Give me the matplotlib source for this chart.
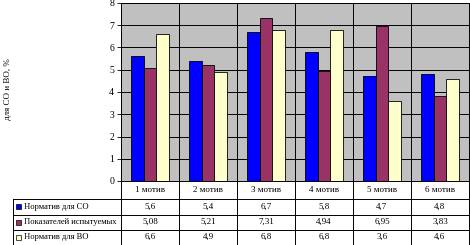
import matplotlib.pyplot as plt
import numpy as np

# chart data
categories = ['1 мотив', '2 мотив', '3 мотив', '4 мотив', '5 мотив', '6 мотив']
series_names = ['Норматив для СО', 'Показателей испытуемых', 'Норматив для ВО']
norm_co = [5.6, 5.4, 6.7, 5.8, 4.7, 4.8]
tested = [5.08, 5.21, 7.31, 4.94, 6.95, 3.83]
norm_vo = [6.6, 4.9, 6.8, 6.8, 3.6, 4.6]
y_ticks = [0, 1, 2, 3, 4, 5, 6, 7, 8]

series = [norm_co, tested, norm_vo]
colors = ['#0000ff', '#993366', '#ffffcc']

plt.rcParams['font.family'] = ['Liberation Serif', 'DejaVu Serif']

W, H = 470, 245
fig = plt.figure(figsize=(W / 100, H / 100), dpi=100)

# pixel layout
px_left, px_right, px_top, px_bottom = 121, 469, 3, 181
tbl_left, tbl_bottom = 13, 245

ax = fig.add_axes([px_left / W, 1 - px_bottom / H,
                   (px_right - px_left) / W, (px_bottom - px_top) / H])
ax.set_facecolor('#c0c0c0')

n = len(categories)
x = np.arange(n)
bw = 1 / 4.5
for i, vals in enumerate(series):
    ax.bar(x + (i - 1) * bw, vals, bw, color=colors[i], edgecolor='black',
           linewidth=0.6, zorder=3)

ax.set_xlim(-0.5, n - 0.5)
ax.set_ylim(0, 8)
ax.set_yticks(y_ticks)
ax.set_yticklabels([str(t) for t in y_ticks], fontsize=7)
ax.tick_params(axis='y', length=3, width=0.6, pad=2)
ax.set_xticks([])
for t in y_ticks[1:]:
    ax.axhline(t, color='black', lw=0.7, zorder=1)
for b in np.arange(n + 1) - 0.5:
    ax.axvline(b, color='black', lw=0.7, zorder=1)
for s in ax.spines.values():
    s.set_linewidth(0.7)

fig.text(8 / W, 1 - 89 / H, 'для СО и ВО, %', rotation=90, fontsize=6.5,
         ha='center', va='center')

# data table under the chart
unit = (px_right - px_left) / n
tx0 = -0.5 - (px_left - tbl_left) / unit
tab = fig.add_axes([tbl_left / W, 0, (px_right - tbl_left) / W, 1 - px_bottom / H])
tab.set_xlim(tx0, n - 0.5)
tab.set_ylim(tbl_bottom, px_bottom)
tab.axis('off')

row_lines = [px_bottom, 198.5, 214.5, 230, tbl_bottom - 0.5]
lk = dict(color='black', lw=0.7, clip_on=False)
for yl in row_lines[1:]:
    tab.plot([tx0, n - 0.5], [yl, yl], **lk)
tab.plot([tx0, tx0], [row_lines[1], row_lines[-1]], **lk)
for b in np.arange(n + 1) - 0.5:
    tab.plot([b, b], [px_bottom, row_lines[-1]], **lk)

for k, c in enumerate(categories):
    tab.text(k, (row_lines[0] + row_lines[1]) / 2, c, ha='center', va='center',
             fontsize=6.5)

key_w = 5 / unit
for i, (name, vals) in enumerate(zip(series_names, series)):
    yc = (row_lines[i + 1] + row_lines[i + 2]) / 2
    tab.add_patch(plt.Rectangle((tx0 + 3 / unit, yc + 2.5), key_w, -5,
                                facecolor=colors[i], edgecolor='black', lw=0.5,
                                clip_on=False))
    tab.text(tx0 + 10.5 / unit, yc, name, ha='left', va='center', fontsize=6.1)
    for k, v in enumerate(vals):
        tab.text(k, yc, str(v).replace('.', ','), ha='center', va='center',
                 fontsize=6.5)

fig.savefig('out.png', dpi=100)
